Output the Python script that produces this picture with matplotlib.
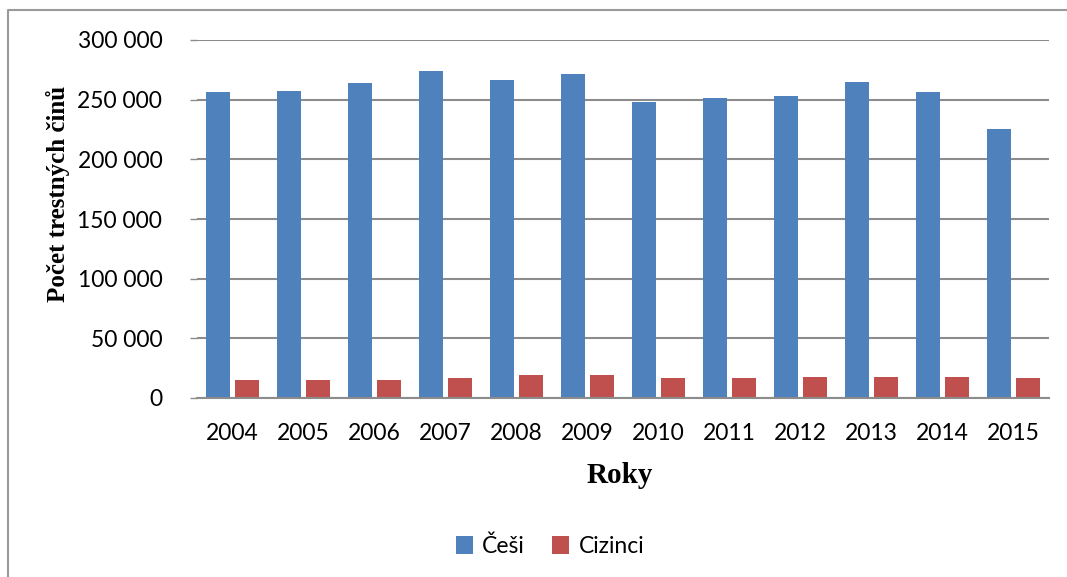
import matplotlib.pyplot as plt
import numpy as np
from matplotlib.lines import Line2D
from matplotlib.ticker import FuncFormatter, MultipleLocator

# Data
years = ['2004', '2005', '2006', '2007', '2008', '2009',
         '2010', '2011', '2012', '2013', '2014', '2015']
cesi = [256400, 257000, 263700, 274000, 266200, 271500,
        248300, 251400, 252800, 264500, 256100, 225100]
cizinci = [14800, 14800, 14800, 17100, 19000, 19000,
           17100, 17100, 17600, 17600, 17600, 17100]

# Styling
blue = '#4F81BD'
red = '#C0504D'
grid_color = '#8C8C8C'
tick_font = 'Lato'
title_font = 'Liberation Serif'
bar_width = 0.335
bar_offset = 0.205

fig = plt.figure(figsize=(10.67, 5.77), dpi=100)
ax = fig.add_axes([197 / 1067, 1 - 398 / 577, 852 / 1067, 358 / 577])

x = np.arange(len(years))
ax.bar(x - bar_offset, cesi, width=bar_width, color=blue, label='Češi', zorder=3)
ax.bar(x + bar_offset, cizinci, width=bar_width, color=red, label='Cizinci', zorder=3)

ax.set_xlim(-0.5, len(years) - 0.5)
ax.set_ylim(0, 300000)
ax.yaxis.set_major_locator(MultipleLocator(50000))
ax.yaxis.set_major_formatter(FuncFormatter(lambda v, p: f'{int(v):,}'.replace(',', ' ')))
ax.set_xticks(x)
ax.set_xticklabels(years)

# grid and spines
ax.grid(axis='y', color=grid_color, linewidth=1.5, zorder=0)
for side in ['top', 'right', 'left']:
    ax.spines[side].set_visible(False)
ax.spines['bottom'].set_color(grid_color)
ax.spines['bottom'].set_linewidth(1.5)
ax.spines['bottom'].set_zorder(4)

ax.tick_params(axis='y', length=5, width=1, color=grid_color, pad=20,
               labelsize=16.5, labelfontfamily=tick_font)
ax.tick_params(axis='x', length=0, pad=18, labelsize=16.5, labelfontfamily=tick_font)

# axis titles
ax.set_ylabel('Počet trestných činů', fontsize=18, fontweight='bold', family=title_font)
ax.yaxis.set_label_coords(-0.149, 0.571)
ax.set_xlabel('Roky', fontsize=21, fontweight='bold', family=title_font)
ax.xaxis.set_label_coords(0.4965, -0.18)

# legend
fig.legend(loc='center', bbox_to_anchor=(550 / 1067, 1 - 546 / 577), ncol=2,
           frameon=False, handlelength=0.75, handleheight=0.85, handletextpad=0.4,
           columnspacing=1.2, prop={'family': tick_font, 'size': 16.5})

# chart frame (only left and top edges visible in the crop)
fig.add_artist(Line2D([8 / 1067, 8 / 1067, 1.0], [0.0, 1 - 10 / 577, 1 - 10 / 577],
                      transform=fig.transFigure, color='#9A9A9A', linewidth=1.5))

fig.savefig('out.png', dpi=100, facecolor='white')
